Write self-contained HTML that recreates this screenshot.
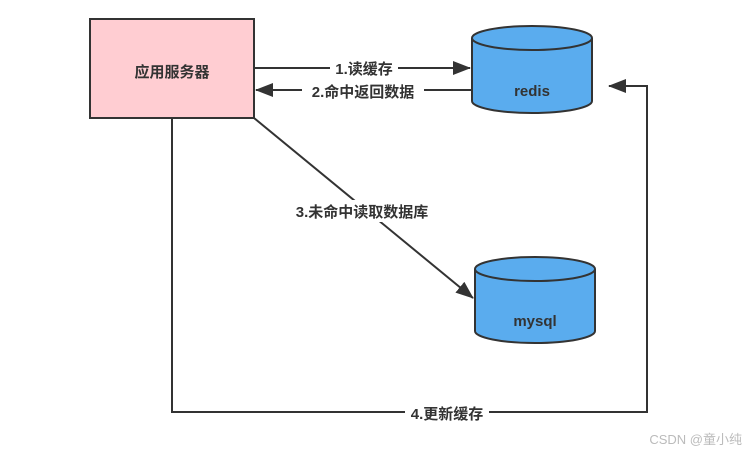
<!DOCTYPE html>
<html><head><meta charset="utf-8"><style>
html,body{margin:0;padding:0;background:#fff;}
svg{display:block;}
text{font-family:"Liberation Sans","Noto Sans CJK SC",sans-serif;font-weight:bold;fill:#333;}
</style></head><body>
<svg width="749" height="460" viewBox="0 0 749 460" xmlns="http://www.w3.org/2000/svg">
<defs>
<marker id="b" markerWidth="18" markerHeight="14" refX="17" refY="7" orient="auto" markerUnits="userSpaceOnUse">
<path d="M0,0 L18,7 L0,14 Z" fill="#333"/></marker>
</defs>
<rect x="90" y="19" width="164" height="99" fill="#ffcdd2" stroke="#333" stroke-width="2"/>
<text x="172" y="77" font-size="15" text-anchor="middle">应用服务器</text>

<path d="M472,38 L472,101 A60,12 0 0 0 592,101 L592,38" fill="#5aacee" stroke="#333" stroke-width="2"/>
<ellipse cx="532" cy="38" rx="60" ry="12" fill="#5aacee" stroke="#333" stroke-width="2"/>
<text x="532" y="96" font-size="15" text-anchor="middle">redis</text>

<path d="M475,269 L475,331 A60,12 0 0 0 595,331 L595,269" fill="#5aacee" stroke="#333" stroke-width="2"/>
<ellipse cx="535" cy="269" rx="60" ry="12" fill="#5aacee" stroke="#333" stroke-width="2"/>
<text x="535" y="326" font-size="15" text-anchor="middle">mysql</text>

<line x1="254" y1="68" x2="470" y2="68" stroke="#333" stroke-width="2" marker-end="url(#b)"/>
<line x1="472" y1="90" x2="256" y2="90" stroke="#333" stroke-width="2" marker-end="url(#b)"/>
<rect x="330" y="58" width="68" height="18" fill="#fff"/>
<text x="364" y="74" font-size="15" text-anchor="middle">1.读缓存</text>
<rect x="302" y="80" width="122" height="19" fill="#fff"/>
<text x="363" y="97" font-size="15" text-anchor="middle">2.命中返回数据</text>

<line x1="254" y1="118" x2="473" y2="298" stroke="#333" stroke-width="2" marker-end="url(#b)"/>
<rect x="285" y="200" width="155" height="22" fill="#fff"/>
<text x="362" y="217" font-size="15" text-anchor="middle">3.未命中读取数据库</text>

<polyline points="172,118 172,412 647,412 647,86 609,86" fill="none" stroke="#333" stroke-width="2" marker-end="url(#b)"/>
<rect x="405" y="403" width="84" height="18" fill="#fff"/>
<text x="447" y="419" font-size="15" text-anchor="middle">4.更新缓存</text>

<text x="742" y="444" font-size="13" text-anchor="end" style="font-weight:normal;fill:#bbb">CSDN @童小纯</text>
</svg>
</body></html>
